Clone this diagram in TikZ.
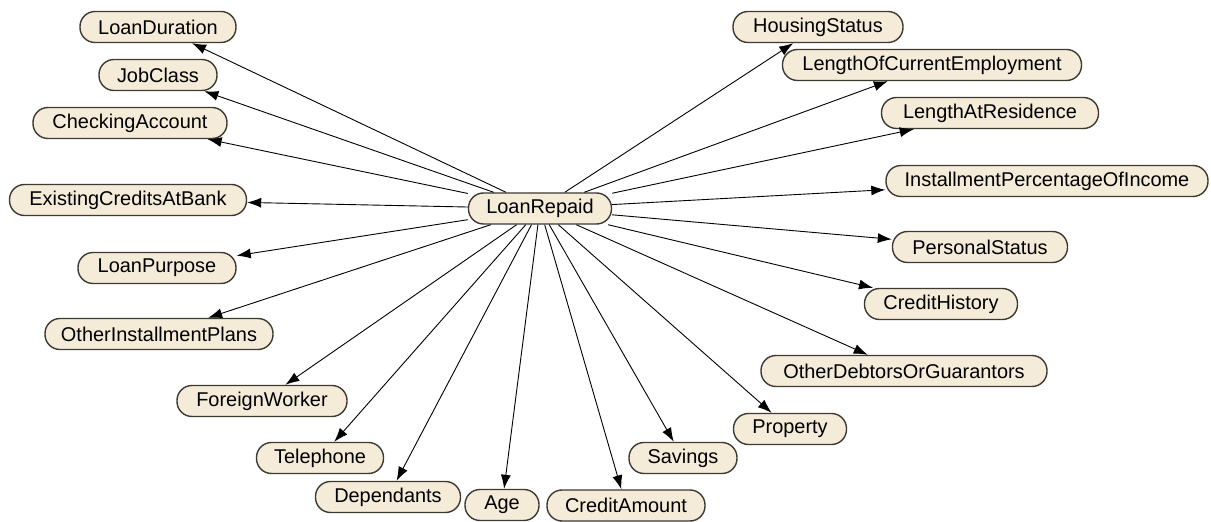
\documentclass[tikz,border=0pt]{standalone}
\usepackage{fontspec}
\setmainfont{Liberation Sans}
\usetikzlibrary{arrows.meta}
\definecolor{nodefill}{HTML}{F4ECD8}
\definecolor{nodeedge}{HTML}{3E3A32}
\begin{document}
\begin{tikzpicture}[x=1bp,y=-1bp,
  var/.style={draw=nodeedge,fill=nodefill,line width=1.4bp,rounded corners=15bp,
    minimum height=31bp,inner xsep=2bp,inner ysep=0bp,
    font=\fontsize{20}{22}\selectfont},
  link/.style={-{Latex[length=14bp,width=10bp]},line width=0.9bp,black}]
\useasboundingbox[fill=white] (0,0) rectangle (1211,522);
\node[var,minimum width=143bp] (lr) at (540,208.5) {LoanRepaid};
\node[var,minimum width=156bp] (ld) at (158,27) {LoanDuration};
\node[var,minimum width=118bp] (jc) at (158,75) {JobClass};
\node[var,minimum width=194bp] (ca) at (130,123) {CheckingAccount};
\node[var,minimum width=237bp] (ec) at (128,200) {ExistingCreditsAtBank};
\node[var,minimum width=158bp] (lp) at (157,268) {LoanPurpose};
\node[var,minimum width=228bp] (oi) at (159,334) {OtherInstallmentPlans};
\node[var,minimum width=170bp] (fw) at (262,401) {ForeignWorker};
\node[var,minimum width=127bp] (te) at (320,458) {Telephone};
\node[var,minimum width=145bp] (de) at (388,497) {Dependants};
\node[var,minimum width=74bp] (ag) at (502,505) {Age};
\node[var,minimum width=158bp] (cr) at (626,505.5) {CreditAmount};
\node[var,minimum width=108bp] (sa) at (683,458) {Savings};
\node[var,minimum width=113bp] (pr) at (790,429) {Property};
\node[var,minimum width=286bp] (od) at (904,371) {OtherDebtorsOrGuarantors};
\node[var,minimum width=153bp] (ch) at (941,304) {CreditHistory};
\node[var,minimum width=175bp] (ps) at (980,247) {PersonalStatus};
\node[var,minimum width=322bp] (ip) at (1047,181) {InstallmentPercentageOfIncome};
\node[var,minimum width=217bp] (la) at (990,113) {LengthAtResidence};
\node[var,minimum width=299bp] (le) at (932,65) {LengthOfCurrentEmployment};
\node[var,minimum width=170bp] (hs) at (818,27) {HousingStatus};
\foreach \t in {ld,jc,ca,ec,lp,oi,fw,te,de,ag,cr,sa,pr,od,ch,ps,ip,la,le,hs}
  \draw[link] (lr) -- (\t);
\end{tikzpicture}
\end{document}
